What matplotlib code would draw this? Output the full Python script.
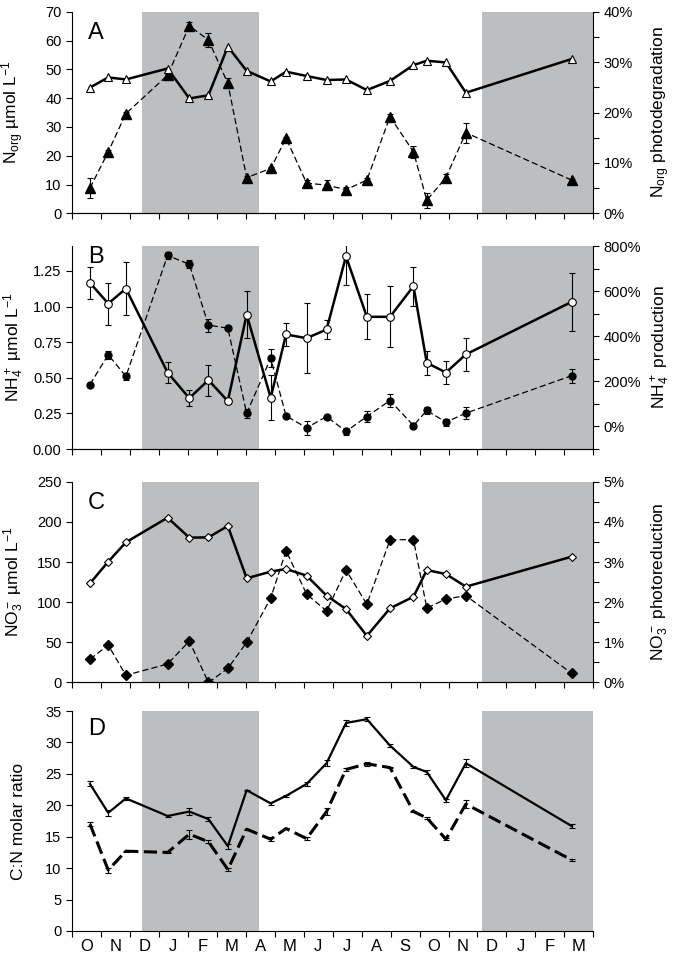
import numpy as np
import matplotlib
matplotlib.use('Agg')
import matplotlib.pyplot as plt
from matplotlib.ticker import MultipleLocator, FuncFormatter

plt.rcParams['font.family'] = ['Liberation Sans', 'DejaVu Sans']
plt.rcParams['mathtext.fontset'] = 'custom'
plt.rcParams['mathtext.rm'] = 'Liberation Sans'
plt.rcParams['mathtext.it'] = 'Liberation Sans:italic'
plt.rcParams['mathtext.bf'] = 'Liberation Sans:bold'

# meses del eje x (oct -> mar del año siguiente)
months = ['O', 'N', 'D', 'J', 'F', 'M', 'A', 'M', 'J', 'J', 'A', 'S',
          'O', 'N', 'D', 'J', 'F', 'M']
# fechas de muestreo en meses desde el 1 de octubre
sample_x = [0.62, 1.25, 1.86, 3.30, 4.05, 4.71, 5.38, 6.03, 6.86, 7.39,
            8.10, 8.79, 9.46, 10.18, 10.98, 11.79, 12.25, 12.91, 13.60, 17.25]
# periodos sombreados (invierno)
winter1 = (2.43, 6.45)
winter2 = (14.16, 18.0)

# A: Norg
norg_conc = [43.7, 47.2, 46.5, 50.3, 39.9, 41.0, 57.9, 49.5, 45.8, 49.2,
             47.7, 46.3, 46.5, 42.8, 46.0, 51.5, 53.0, 52.4, 41.9, 53.6]
norg_photo = [5.0, 12.2, 19.8, 27.4, 37.2, 34.4, 25.8, 7.1, 8.9, 14.9,
              6.0, 5.6, 4.7, 6.6, 19.2, 12.2, 2.6, 7.1, 16.0, 6.6]
norg_photo_err = [2.0, 0.4, 0.3, 0.3, 0.8, 1.3, 1.0, 0.3, 0.3, 0.3,
                  0.6, 1.0, 0.5, 0.4, 0.5, 1.2, 1.5, 0.8, 2.0, 0.3]

# B: NH4+
nh4_conc = [1.166, 1.021, 1.126, 0.537, 0.357, 0.484, 0.336, 0.944, 0.36, 0.804,
            0.778, 0.839, 1.353, 0.928, 0.928, 1.143, 0.605, 0.537, 0.664, 1.033]
nh4_conc_err = [0.11, 0.147, 0.186, 0.074, 0.056, 0.109, 0.02, 0.166, 0.158, 0.084,
                0.245, 0.064, 0.20, 0.159, 0.214, 0.138, 0.082, 0.078, 0.117, 0.204]
nh4_prod = [186, 318, 222, 758, 719, 449, 436, 59, 302, 47,
            -6, 44, -22, 44, 115, 4, 71, 19, 59, 225]
nh4_prod_err = [8, 18, 15, 15, 18, 29, 8, 20, 40, 10,
                30, 8, 15, 24, 28, 10, 15, 15, 27, 31]

# C: NO3-
no3_conc = [123.4, 150.4, 174.5, 205.2, 180.3, 180.7, 194.8, 129.7, 138.0, 141.3,
            133.0, 108.1, 91.5, 58.0, 92.3, 106.8, 140.0, 135.0, 119.3, 156.6]
no3_photo = [0.58, 0.93, 0.18, 0.46, 1.03, 0.0, 0.35, 1.0, 2.10, 3.28,
             2.20, 1.78, 2.80, 1.95, 3.55, 3.56, 1.85, 2.08, 2.16, 0.23]

# D: C:N
cn_solid = [23.4, 18.8, 21.1, 18.3, 19.0, 17.8, 13.5, 22.4, 20.3, 21.5,
            23.4, 26.7, 33.1, 33.7, 29.5, 26.1, 25.3, 20.8, 26.7, 16.7]
cn_solid_err = [0.4, 0.5, 0.2, 0.1, 0.6, 0.3, 0.4, 0.1, 0.3, 0.2,
                0.3, 0.5, 0.5, 0.3, 0.3, 0.2, 0.3, 0.2, 0.6, 0.3]
cn_dash = [17.0, 9.7, 12.7, 12.5, 15.4, 14.2, 9.8, 16.2, 14.6, 16.3,
           14.7, 19.0, 25.7, 26.6, 26.0, 19.0, 18.0, 14.6, 20.2, 11.3]
cn_dash_err = [0.3, 0.4, 0.1, 0.1, 0.7, 0.2, 0.2, 0.1, 0.3, 0.1,
               0.2, 0.6, 0.3, 0.3, 0.1, 0.1, 0.2, 0.2, 0.6, 0.2]

gray = '#bcbec0'
tick_fs = 10.5
lab_fs = 12.5

fig = plt.figure(figsize=(6.75, 9.58), dpi=100)
left, width = 0.1067, 0.7723
axA = fig.add_axes([left, 0.7773, width, 0.2104])
axB = fig.add_axes([left, 0.5313, width, 0.2119])
axC = fig.add_axes([left, 0.2876, width, 0.2096])
axD = fig.add_axes([left, 0.0282, width, 0.2296])


def base(ax, letter, ly, laby):
    ax.set_xlim(0, 18)
    ax.set_xticks(range(19))
    ax.set_xticklabels([])
    ax.spines['top'].set_visible(False)
    ax.spines['right'].set_visible(False)
    ax.tick_params(axis='both', direction='out', length=4, width=0.8,
                   labelsize=tick_fs)
    ax.text(0.03, ly, letter, transform=ax.transAxes, fontsize=17,
            ha='left', va='top')
    ax.yaxis.set_label_coords(-0.088, laby)


def shade(ax):
    ax.axvspan(*winter1, color=gray, lw=0, zorder=0)
    ax.axvspan(*winter2, color=gray, lw=0, zorder=0)


def right_axis(ax, lo, hi, major, minor, fmt, label):
    r = ax.twinx()
    r.set_ylim(lo, hi)
    r.yaxis.set_major_locator(MultipleLocator(major))
    r.yaxis.set_minor_locator(MultipleLocator(minor))
    r.yaxis.set_major_formatter(FuncFormatter(fmt))
    r.spines['top'].set_visible(False)
    r.spines['left'].set_visible(False)
    r.tick_params(axis='y', which='major', direction='out', length=4, width=0.8,
                  labelsize=tick_fs)
    r.tick_params(axis='y', which='minor', direction='out', length=4, width=0.8)
    r.set_ylabel(label, fontsize=lab_fs, rotation=90)
    r.yaxis.set_label_coords(1.107, 0.5)
    shade(r)
    # el eje izquierdo va encima, con fondo transparente
    ax.set_zorder(r.get_zorder() + 1)
    ax.patch.set_visible(False)
    return r


thin = dict(color='black', lw=0.9, ls=(0, (5, 2.5)))
thick = dict(color='black', lw=1.8, ls='-')

# ---- A
base(axA, 'A', 0.95, 0.5)
axA.set_ylim(0, 70)
axA.yaxis.set_major_locator(MultipleLocator(10))
axA.set_ylabel(r'N$_{\rm org}$ µmol L$^{-1}$', fontsize=lab_fs)
rA = right_axis(axA, 0, 40, 10, 5, lambda v, p: '%d%%' % v,
                r'N$_{\rm org}$ photodegradation')
rA.errorbar(sample_x, norg_photo, yerr=norg_photo_err, marker='^', ms=6.5,
            mfc='black', mec='black', capsize=2, elinewidth=0.8, capthick=0.8,
            **thin)
axA.plot(sample_x, norg_conc, marker='^', ms=5.5, mfc='white', mec='black',
         mew=0.8, **thick)

# ---- B
base(axB, 'B', 1.0, 0.56)
axB.set_ylim(0, 1.425)
axB.yaxis.set_major_locator(MultipleLocator(0.25))
axB.yaxis.set_major_formatter(FuncFormatter(lambda v, p: '%.2f' % v))
axB.set_ylabel(r'NH$_4^+$ µmol L$^{-1}$', fontsize=lab_fs)
rB = right_axis(axB, -100, 800, 200, 100,
                lambda v, p: '%d%%' % v if v >= 0 else '',
                r'NH$_4^+$ production')
rB.errorbar(sample_x, nh4_prod, yerr=nh4_prod_err, marker='o', ms=5,
            mfc='black', mec='black', capsize=2, elinewidth=0.8, capthick=0.8,
            **thin)
axB.errorbar(sample_x, nh4_conc, yerr=nh4_conc_err, marker='o', ms=5.5,
             mfc='white', mec='black', mew=0.8, capsize=2.5, elinewidth=0.8,
             capthick=0.8, ecolor='black', **thick)

# ---- C
base(axC, 'C', 0.95, 0.5)
axC.set_ylim(0, 250)
axC.yaxis.set_major_locator(MultipleLocator(50))
axC.set_ylabel(r'NO$_3^-$ µmol L$^{-1}$', fontsize=lab_fs)
rC = right_axis(axC, 0, 5, 1, 0.5, lambda v, p: '%d%%' % v,
                r'NO$_3^-$ photoreduction')
rC.plot(sample_x, no3_photo, marker='D', ms=5, mfc='black', mec='black',
        **thin)
axC.plot(sample_x, no3_conc, marker='D', ms=4.5, mfc='white', mec='black',
         mew=0.8, **thick)

# ---- D
base(axD, 'D', 0.97, 0.5)
shade(axD)
axD.set_ylim(0, 35)
axD.yaxis.set_major_locator(MultipleLocator(5))
axD.set_ylabel('C:N molar ratio', fontsize=lab_fs)
axD.errorbar(sample_x, cn_solid, yerr=cn_solid_err, color='black', lw=1.6,
             capsize=2.5, elinewidth=0.8, capthick=0.8)
axD.errorbar(sample_x, cn_dash, yerr=cn_dash_err, color='black', lw=2.2,
             ls=(0, (4.3, 1.8)), capsize=2.5, elinewidth=0.8, capthick=0.8)
axD.set_xticks(np.arange(18) + 0.5, minor=True)
axD.set_xticklabels(months, minor=True, fontsize=12)
axD.tick_params(axis='x', which='minor', length=0, pad=6)

fig.savefig('out.png', dpi=100)
